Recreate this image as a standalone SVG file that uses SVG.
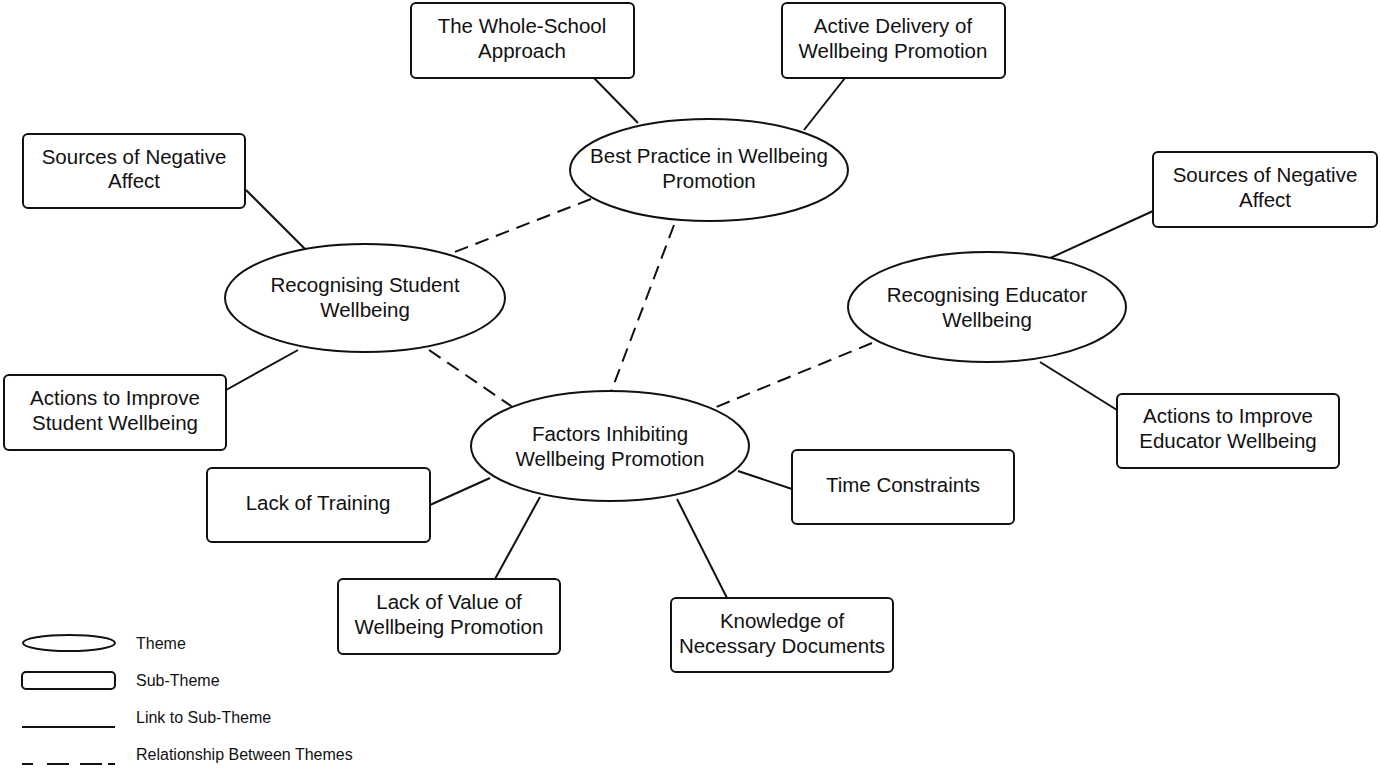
<svg xmlns="http://www.w3.org/2000/svg" width="1381" height="769" viewBox="0 0 1381 769">
<style>
.box{fill:#fff;stroke:#111;stroke-width:2}
.th{fill:#fff;stroke:#111;stroke-width:2}
.ln{stroke:#111;stroke-width:2;fill:none}
.dl{stroke:#111;stroke-width:2;fill:none;stroke-dasharray:14 8}
text{font-family:"Liberation Sans",Arial,sans-serif;font-size:20.5px;fill:#111;text-anchor:middle}
.lg{font-size:16px;text-anchor:start}
</style>
<rect width="1381" height="769" fill="#fff"/>
<g id="connectors">
<line class="ln" x1="594" y1="78" x2="638" y2="123"/>
<line class="ln" x1="845" y1="78" x2="804" y2="130"/>
<line class="ln" x1="246" y1="190" x2="306" y2="250"/>
<line class="ln" x1="226" y1="390" x2="298" y2="350"/>
<line class="ln" x1="1153" y1="211" x2="1046" y2="260"/>
<line class="ln" x1="1040" y1="362" x2="1117" y2="410"/>
<line class="ln" x1="490" y1="478" x2="430" y2="505"/>
<line class="ln" x1="738" y1="471" x2="792" y2="489"/>
<line class="ln" x1="540" y1="497" x2="495" y2="579"/>
<line class="ln" x1="677" y1="499" x2="727" y2="598"/>
<line class="dl" x1="591" y1="199" x2="447" y2="255"/>
<line class="dl" x1="674" y1="225" x2="611" y2="392"/>
<line class="dl" x1="429" y1="350" x2="517" y2="410"/>
<line class="dl" x1="872" y1="343" x2="709" y2="410"/>
</g>
<g id="whole-school"><rect class="box" x="411" y="3" width="223" height="75" rx="5"/><text x="522" y="33">The Whole-School</text><text x="522" y="58">Approach</text></g>
<g id="active-delivery"><rect class="box" x="782" y="3" width="223" height="75" rx="5"/><text x="893" y="33">Active Delivery of</text><text x="893" y="58">Wellbeing Promotion</text></g>
<g id="best-practice"><ellipse class="th" cx="709" cy="170" rx="139" ry="51"/><text x="709" y="163">Best Practice in Wellbeing</text><text x="709" y="188">Promotion</text></g>
<g id="sources-left"><rect class="box" x="23" y="134" width="222" height="74" rx="5"/><text x="134" y="164">Sources of Negative</text><text x="134" y="188">Affect</text></g>
<g id="recognising-student"><ellipse class="th" cx="365" cy="298" rx="140" ry="54"/><text x="365" y="292">Recognising Student</text><text x="365" y="317">Wellbeing</text></g>
<g id="actions-student"><rect class="box" x="4" y="375" width="222" height="75" rx="5"/><text x="115" y="405">Actions to Improve</text><text x="115" y="430">Student Wellbeing</text></g>
<g id="sources-right"><rect class="box" x="1153" y="152" width="224" height="75" rx="5"/><text x="1265" y="182">Sources of Negative</text><text x="1265" y="207">Affect</text></g>
<g id="recognising-educator"><ellipse class="th" cx="987" cy="307" rx="139" ry="55"/><text x="987" y="302">Recognising Educator</text><text x="987" y="327">Wellbeing</text></g>
<g id="actions-educator"><rect class="box" x="1117" y="394" width="222" height="74" rx="5"/><text x="1228" y="423">Actions to Improve</text><text x="1228" y="448">Educator Wellbeing</text></g>
<g id="factors"><ellipse class="th" cx="610" cy="446" rx="139" ry="55"/><text x="610" y="441">Factors Inhibiting</text><text x="610" y="466">Wellbeing Promotion</text></g>
<g id="lack-training"><rect class="box" x="207" y="468" width="223" height="74" rx="5"/><text x="318" y="510">Lack of Training</text></g>
<g id="time-constraints"><rect class="box" x="792" y="450" width="222" height="74" rx="5"/><text x="903" y="492">Time Constraints</text></g>
<g id="lack-value"><rect class="box" x="338" y="579" width="222" height="75" rx="5"/><text x="449" y="609">Lack of Value of</text><text x="449" y="634">Wellbeing Promotion</text></g>
<g id="knowledge"><rect class="box" x="671" y="598" width="222" height="74" rx="5"/><text x="782" y="628">Knowledge of</text><text x="782" y="653">Necessary Documents</text></g>
<g id="legend">
<ellipse class="th" cx="69" cy="643" rx="46" ry="8"/>
<rect class="box" x="22" y="672" width="93" height="17" rx="4"/>
<line class="ln" x1="22" y1="727" x2="115" y2="727"/>
<line class="ln" x1="22" y1="764" x2="115" y2="764" stroke-dasharray="11 14 22 11 22 6 7"/>
<text class="lg" x="136" y="649">Theme</text>
<text class="lg" x="136" y="686">Sub-Theme</text>
<text class="lg" x="136" y="723">Link to Sub-Theme</text>
<text class="lg" x="136" y="760">Relationship Between Themes</text>
</g>
</svg>
